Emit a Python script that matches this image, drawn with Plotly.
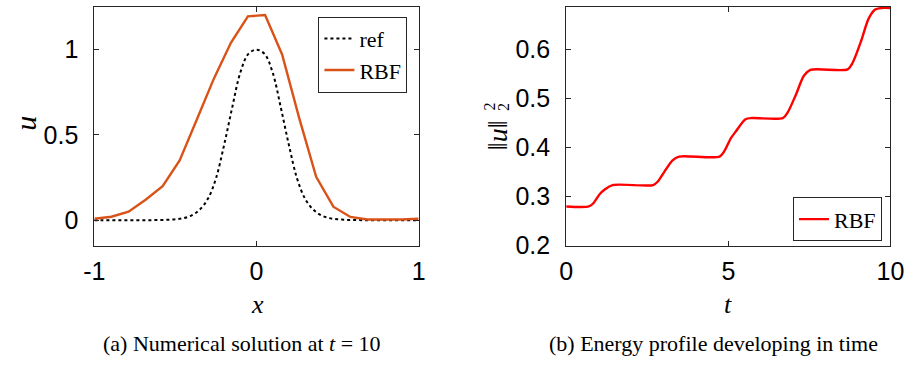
import plotly.graph_objects as go

# ---------------- data ----------------
x_ref = [-1.0, -0.95, -0.9, -0.85, -0.8, -0.75, -0.7, -0.65, -0.6, -0.55, -0.5, -0.45, -0.4,
         -0.35, -0.3, -0.25, -0.2, -0.15, -0.1, -0.05, 0.0, 0.05, 0.1, 0.15, 0.2, 0.25, 0.3,
         0.35, 0.4, 0.45, 0.5, 0.55, 0.6, 0.65, 0.7, 0.75, 0.8, 0.85, 0.9, 0.95, 1.0]
u_ref = [0.0, 0.0, 0.0, 0.0, 0.0, 0.0, 0.0, 0.0, 0.001, 0.002, 0.005, 0.012, 0.028,
         0.062, 0.125, 0.245, 0.44, 0.66, 0.865, 0.975, 1.0, 0.975, 0.865, 0.66, 0.44, 0.245, 0.125,
         0.062, 0.028, 0.012, 0.005, 0.002, 0.001, 0.0, 0.0, 0.0, 0.0, 0.0, 0.0, 0.0, 0.0]

x_rbf = [-1.0, -0.895, -0.789, -0.684, -0.579, -0.474, -0.368, -0.263, -0.158, -0.053,
         0.053, 0.158, 0.263, 0.368, 0.474, 0.579, 0.684, 0.789, 0.895, 1.0]
u_rbf = [0.008, 0.02, 0.05, 0.12, 0.20, 0.35, 0.59, 0.83, 1.04, 1.195,
         1.203, 0.972, 0.60, 0.254, 0.079, 0.019, 0.004, 0.002, 0.004, 0.008]

t_vals = [0.0, 0.7, 0.83, 1.03, 1.18, 1.43, 2.68, 2.83, 3.03, 3.28, 3.48, 4.73, 4.88, 5.08,
          5.23, 5.53, 5.73, 6.68, 6.83, 7.08, 7.33, 7.53, 8.68, 8.83, 9.08, 9.33, 9.53, 9.73, 10.0]
energy = [0.280, 0.280, 0.286, 0.305, 0.314, 0.3235, 0.3235, 0.331, 0.351, 0.374, 0.3816,
          0.3816, 0.393, 0.419, 0.4325, 0.4575, 0.460, 0.460, 0.4714, 0.507, 0.546, 0.558,
          0.559, 0.572, 0.614, 0.663, 0.681, 0.684, 0.684]

left_xticks = [-1, 0, 1]
left_yticks = [0, 0.5, 1]
right_xticks = [0, 5, 10]
right_yticks = [0.2, 0.3, 0.4, 0.5, 0.6]

# ---------------- layout helpers ----------------
W, H = 921, 374
def px(x):
    return x / W
def py(y):
    return 1 - y / H

AX_COLOR = "#262626"
TICK_FONT = dict(family="Liberation Sans, Arial, sans-serif", size=25, color="black")
SERIF = "Liberation Serif"

fig = go.Figure()

fig.add_trace(go.Scatter(x=x_ref, y=u_ref, mode="lines", name="ref",
                         line=dict(color="black", width=2, dash="dot", shape="spline"),
                         xaxis="x", yaxis="y", legend="legend"))
fig.add_trace(go.Scatter(x=x_rbf, y=u_rbf, mode="lines", name="RBF",
                         line=dict(color="#D95319", width=2.4),
                         xaxis="x", yaxis="y", legend="legend"))
fig.add_trace(go.Scatter(x=t_vals, y=energy, mode="lines", name="RBF",
                         line=dict(color="#FF0000", width=2.4, shape="spline", smoothing=0.8),
                         xaxis="x2", yaxis="y2", legend="legend2"))

common_axis = dict(showline=True, linecolor=AX_COLOR, linewidth=1, mirror="ticks",
                   ticks="inside", ticklen=5, tickcolor=AX_COLOR, tickwidth=1,
                   showgrid=False, zeroline=False, tickfont=TICK_FONT)

fig.update_layout(
    width=W, height=H,
    margin=dict(l=0, r=0, t=0, b=0),
    paper_bgcolor="white", plot_bgcolor="white",
    xaxis=dict(domain=[px(85.7), px(419)], range=[-1, 1], tickvals=left_xticks,
               ticktext=["-1", "0", "1"], anchor="y", ticklabelstandoff=3, **common_axis),
    yaxis=dict(domain=[py(255.3), py(7.3)], range=[-0.15, 1.25], tickvals=left_yticks,
               ticktext=["0", "0.5", "1"], anchor="x", ticklabelstandoff=10, **common_axis),
    xaxis2=dict(domain=[px(570.7), px(904)], range=[0, 10], tickvals=right_xticks,
                ticktext=["0", "5", "10"], anchor="y2", ticklabelstandoff=3, **common_axis),
    yaxis2=dict(domain=[py(255.3), py(7.3)], range=[0.2, 0.686], tickvals=right_yticks,
                ticktext=["0.2", "0.3", "0.4", "0.5", "0.6"], anchor="x2",
                ticklabelstandoff=10, **common_axis),
    legend=dict(x=px(316), y=py(17.3), xanchor="left", yanchor="top",
                bgcolor="white", bordercolor=AX_COLOR, borderwidth=1,
                font=dict(family=SERIF, size=22, color="black"),
                tracegroupgap=0, itemwidth=30),
    legend2=dict(x=px(895.3), y=py(250.7), xanchor="right", yanchor="bottom",
                 bgcolor="white", bordercolor=AX_COLOR, borderwidth=1,
                 font=dict(family=SERIF, size=22, color="black"), itemwidth=30),
    showlegend=True,
)

ann = []
def add_text(text, x, y, size, angle=0, family=SERIF):
    ann.append(dict(text=text, x=px(x), y=py(y), xref="paper", yref="paper",
                    showarrow=False, xanchor="center", yanchor="middle", borderpad=0,
                    textangle=angle, font=dict(family=family, size=size, color="black")))

add_text("<i>x</i>", 253, 316, 26)
add_text("<i>t</i>", 737, 316, 26)
add_text("<i>u</i>", 15, 128, 30, angle=-90)
add_text("‖<i>u</i>‖", 500, 140, 28, angle=-90)
add_text("2", 492, 111, 16, angle=-90)
add_text("2", 507, 111, 16, angle=-90)
add_text("(a) Numerical solution at <i>t</i> = 10", 237, 357, 22)
add_text("(b) Energy profile developing in time", 722, 357, 22)

fig.update_layout(annotations=ann)

fig.write_html("out.html")
